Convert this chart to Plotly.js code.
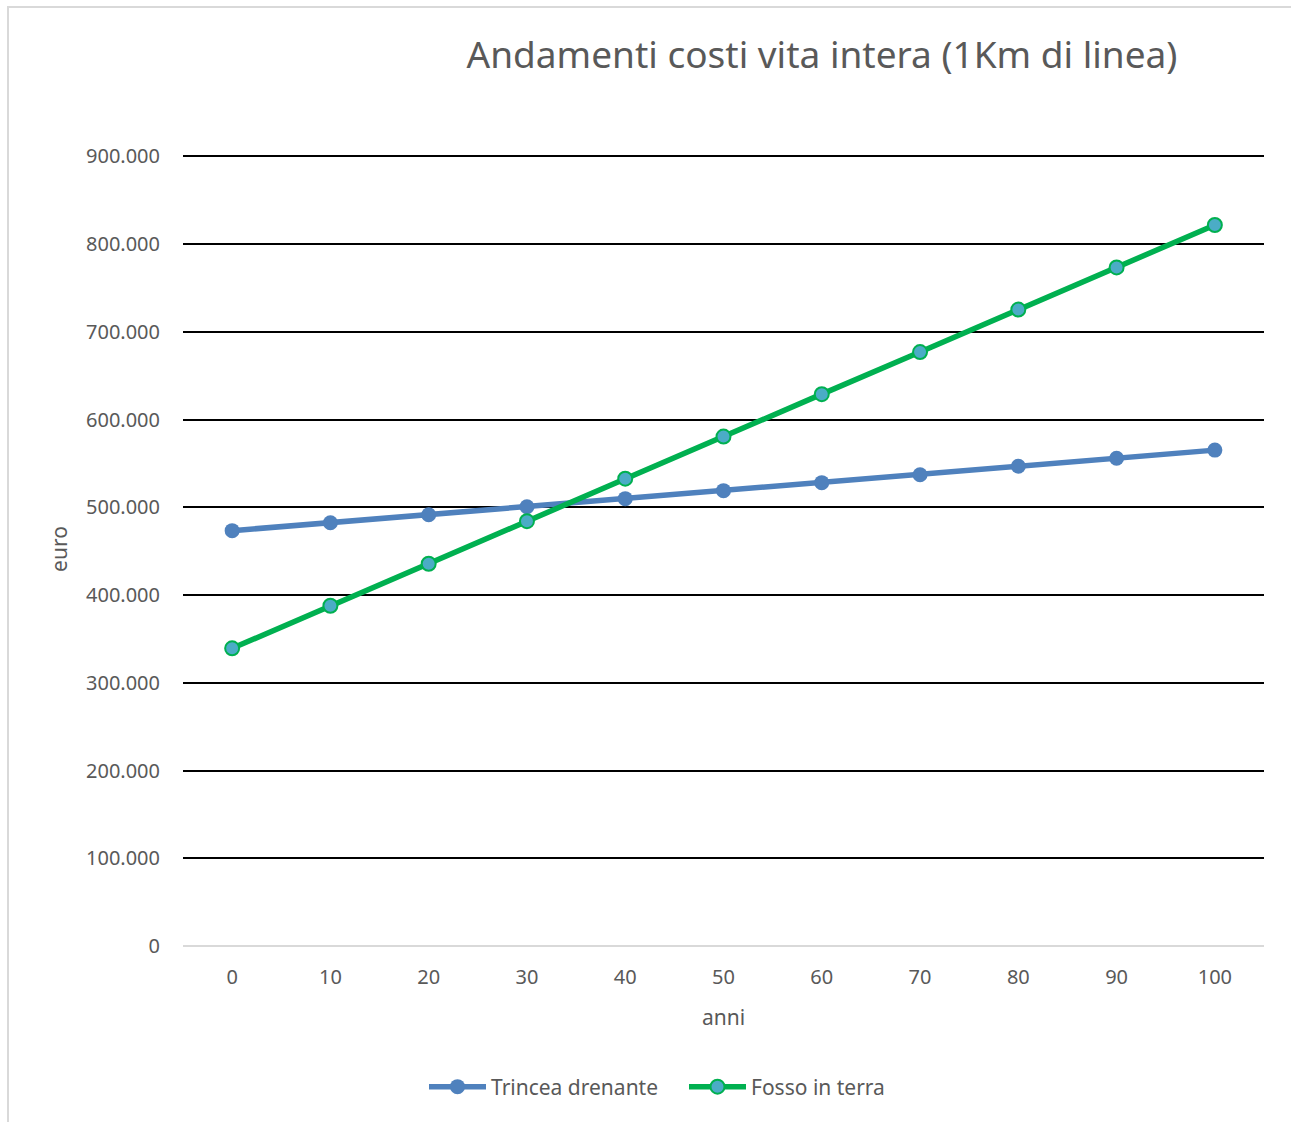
<!DOCTYPE html>
<html>
<head>
<meta charset="utf-8">
<script src="https://cdn.plot.ly/plotly-3.0.1.min.js"></script>
<style>
html,body{margin:0;padding:0;background:#fff;}
#wrap{position:absolute;left:0;top:0;width:1291px;height:1122px;}
#frame{position:absolute;left:7px;top:6px;width:1284px;height:1116px;border-left:2px solid #d9d9d9;border-top:2px solid #d9d9d9;box-sizing:border-box;pointer-events:none;}
#chart{position:absolute;left:0;top:0;width:1291px;height:1122px;}
</style>
</head>
<body>
<div id="wrap"><div id="chart"></div><div id="frame"></div></div>
<script>
const anni = [0, 10, 20, 30, 40, 50, 60, 70, 80, 90, 100];
const trinceaDrenante = [473400, 482500, 491600, 500700, 509900, 519000, 528100, 537200, 546900, 556000, 565200];
const fossoInTerra = [339300, 387800, 435700, 484200, 532700, 580600, 629000, 677000, 725400, 773400, 821800];
const yTicks = [0, 100000, 200000, 300000, 400000, 500000, 600000, 700000, 800000, 900000];

const font = "'Noto Sans', 'Open Sans', sans-serif";

const traces = [
  {
    x: anni, y: trinceaDrenante, name: 'Trincea drenante', type: 'scatter', mode: 'lines+markers',
    line: {color: '#4f81bd', width: 5.5},
    marker: {color: '#4f81bd', size: 15, line: {width: 0}}
  },
  {
    x: anni, y: fossoInTerra, name: 'Fosso in terra', type: 'scatter', mode: 'lines+markers',
    line: {color: '#00b050', width: 5.5},
    marker: {color: '#4bacc6', size: 14, line: {color: '#00b050', width: 2}}
  }
];

const layout = {
  width: 1291, height: 1122,
  margin: {l: 183, r: 27, t: 152, b: 176},
  paper_bgcolor: '#ffffff', plot_bgcolor: '#ffffff',
  separators: ',.',
  font: {family: font, color: '#595959', size: 21},
  title: {
    text: 'Andamenti costi vita intera (1Km di linea)',
    font: {family: font, size: 37, color: '#595959'},
    x: 822/1291, xanchor: 'center', xref: 'container',
    y: 1 - 55/1122, yanchor: 'middle', yref: 'container'
  },
  xaxis: {
    range: [-5, 105], tickvals: anni, ticktext: anni.map(String),
    showgrid: false, zeroline: false, showline: false, ticks: '',
    ticklabelstandoff: 17,
    tickfont: {family: font, size: 20, color: '#595959'},
    title: {text: 'anni', font: {family: font, size: 21, color: '#595959'}, standoff: 21},
    fixedrange: true
  },
  yaxis: {
    range: [0, 905000], tickvals: yTicks, tickformat: ',.0f',
    showgrid: true, gridcolor: '#000000', gridwidth: 2,
    zeroline: true, zerolinecolor: '#d9d9d9', zerolinewidth: 2,
    showline: false, ticks: '',
    ticklabelstandoff: 22,
    tickfont: {family: font, size: 20, color: '#595959'},
    title: {text: 'euro', font: {family: font, size: 21, color: '#595959'}, standoff: 12},
    fixedrange: true
  },
  showlegend: true,
  legend: {
    orientation: 'h', x: 684/1291, xanchor: 'center', xref: 'container',
    y: 1 - 1087/1122, yanchor: 'middle', yref: 'container',
    font: {family: font, size: 21, color: '#595959'},
    itemwidth: 57, tracegroupgap: 0, entrywidth: 188
  }
};

Plotly.newPlot('chart', traces, layout, {displayModeBar: false, staticPlot: true});
</script>
</body>
</html>
